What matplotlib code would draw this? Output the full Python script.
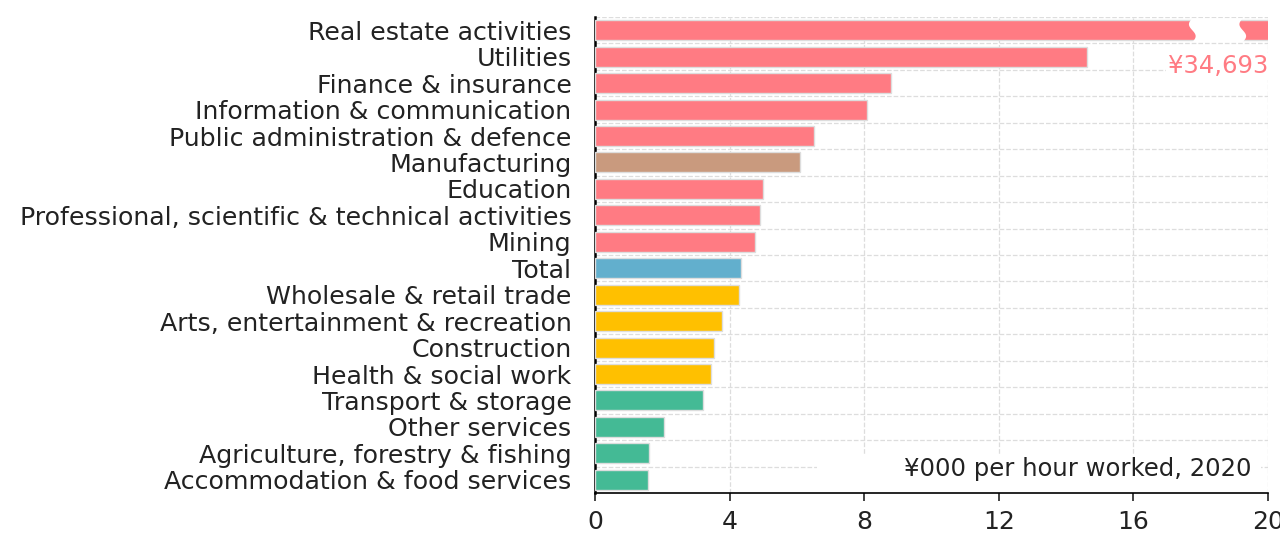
import numpy as np
import matplotlib.pyplot as plt
from matplotlib.patches import Polygon, Rectangle

plt.rcParams['font.family'] = ['DejaVu Sans']

# data (¥000 per hour worked, 2020)
sectors = ['Real estate activities', 'Utilities', 'Finance & insurance',
           'Information & communication', 'Public administration & defence',
           'Manufacturing', 'Education',
           'Professional, scientific & technical activities', 'Mining', 'Total',
           'Wholesale & retail trade', 'Arts, entertainment & recreation',
           'Construction', 'Health & social work', 'Transport & storage',
           'Other services', 'Agriculture, forestry & fishing',
           'Accommodation & food services']
values = [34.693, 14.63, 8.81, 8.07, 6.51, 6.09, 4.99, 4.90, 4.76, 4.33,
          4.29, 3.77, 3.54, 3.46, 3.20, 2.05, 1.61, 1.57]
groups = ['hi', 'hi', 'hi', 'hi', 'hi', 'mfg', 'hi', 'hi', 'hi', 'total',
          'mid', 'mid', 'mid', 'mid', 'lo', 'lo', 'lo', 'lo']
colours = {'hi': '#FF7B83', 'mfg': '#C99A7E', 'total': '#62AFCD',
           'mid': '#FFC000', 'lo': '#44BA95'}
xmax = 20
fs = 17.5

fig = plt.figure(figsize=(12.8, 5.37), dpi=100)
ax = fig.add_axes([595/1280, 1 - 493/537, 673/1280, 476/537])

y = np.arange(len(sectors))
ax.barh(y, values, height=0.76, color=[colours[g] for g in groups],
        edgecolor='#DDDDDD', linewidth=1, zorder=3)

ax.set_xlim(0, xmax)
ax.set_ylim(len(sectors) - 0.5, -0.5)
ax.set_yticks(y)
ax.set_yticklabels(sectors, fontsize=18.2, color='#222222')
ax.set_yticks(np.arange(-0.5, len(sectors) - 0.5, 1), minor=True)
ax.set_xticks(np.arange(0, xmax + 1, 4))
ax.tick_params(axis='x', labelsize=18, length=6, width=1.2, pad=6, colors='#222222')
ax.tick_params(axis='y', length=0, pad=17)
ax.tick_params(axis='y', which='minor', length=0)

ax.grid(axis='x', which='major', color='#DDDDDD', linestyle='--', linewidth=0.9, zorder=0)
ax.grid(axis='y', which='minor', color='#DDDDDD', linestyle='--', linewidth=0.9, zorder=0)
for s in ['top', 'right']:
    ax.spines[s].set_visible(False)
ax.spines['left'].set_linewidth(1.8)
ax.spines['bottom'].set_linewidth(1.2)

# axis break on the clipped bar
top = values.index(max(values))
tt = np.linspace(-0.45, 0.45, 30)
wave = 0.1 * np.sin(tt / 0.45 * np.pi)
x0, x1 = 17.75, 19.25
left_edge = np.column_stack([x0 + wave, top + tt])
right_edge = np.column_stack([x1 + wave, top + tt])[::-1]
ax.add_patch(Polygon(np.vstack([left_edge, right_edge]), closed=True,
                     facecolor='white', edgecolor='none', zorder=4))
ax.text(xmax, top + 1.37, '¥{:,.0f}'.format(max(values) * 1000),
        color=colours['hi'], fontsize=fs, ha='right', va='center', zorder=5,
        bbox=dict(facecolor='white', edgecolor='none', pad=1))

# unit note
ax.add_patch(Rectangle((6.6, len(sectors) - 1.95), 13.2, 1.5, facecolor='white',
                       edgecolor='none', zorder=2))
ax.text(19.5, len(sectors) - 1.4, '¥000 per hour worked, 2020', fontsize=fs,
        ha='right', va='center', color='#222222', zorder=5)

fig.savefig('out.png', dpi=100)
